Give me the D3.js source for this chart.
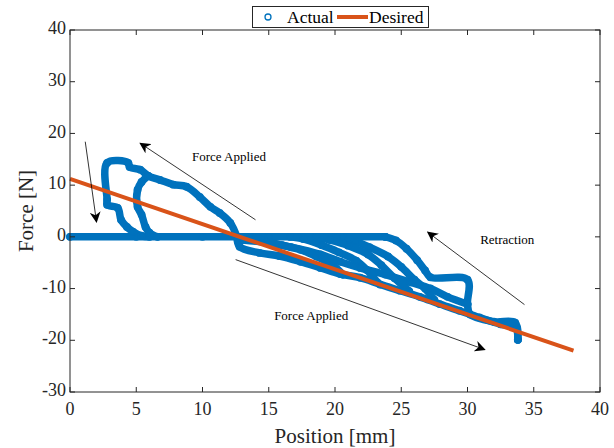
<!DOCTYPE html>
<html><head><meta charset="utf-8">
<script src="https://cdn.jsdelivr.net/npm/d3@7/dist/d3.min.js"></script>
<style>body{margin:0;background:#fff}svg{display:block}</style>
</head><body><svg id="c" width="614" height="448" font-family="'Liberation Serif', 'DejaVu Serif', serif"></svg>
<script>
// ---------- data ----------
const xTicks = [0,5,10,15,20,25,30,35,40];
const yTicks = [-30,-20,-10,0,10,20,30,40];
const desired = [[0,11.2],[38,-22]];

const actualBaseline = [[0,0],[5,0],[10,0],[15,0],[20,0],[23.8,0]];
const actualLoopOuter = [[12.6,0],[12.1,2.7],[11.3,4.6],[10.6,5.8],[9.8,7.7],[8.8,9.7],[7.8,10.1],[6.8,11.0],[5.9,11.8],[5.3,13.0],[4.5,13.5],[4.4,14.3],[2.8,14.3],[2.8,7.2],[2.8,6.2],[3.6,5.6],[3.85,3.3],[4.3,1.9],[4.75,1.0],[5.4,0.2],[6.0,0]];
const actualLoopInner = [[5.9,11.8],[5.4,10.6],[5.1,9.1],[5.1,5.8],[5.4,4.3],[5.7,1.9],[6.0,0.8],[6.6,0]];
const actualPushLower = [[12.6,0],[12.8,-1.9],[14.3,-3.1],[15.8,-3.7],[17.4,-4.8],[18.9,-6.0],[20.4,-7.2],[21.9,-7.9],[23.4,-9.2],[24.9,-10.4],[26.4,-11.6],[27.9,-13.0],[29.4,-14.3],[30.9,-15.6],[32.5,-16.9],[33.6,-17.3],[33.8,-19.9]];
const actualPushUpper = [[13.0,-0.6],[14.8,-1.1],[16.7,-2.0],[18.9,-3.4],[20.4,-4.8],[21.9,-6.0],[23.8,-7.3],[25.7,-8.8],[27.2,-10.0],[28.5,-11.6],[30.0,-13.0]];
const actualRetract1 = [[33.8,-19.9],[33.6,-16.6],[32.0,-16.4],[30.2,-15.0],[30.0,-13.0],[30.0,-8.3],[27.2,-7.8],[26.8,-6.5],[26.2,-4.5],[25.4,-2.3],[24.6,-0.7],[23.8,0]];
const actualRetract2 = [[27.5,-12.2],[26.8,-10.0],[26.0,-8.3],[25.0,-5.8],[24.0,-3.8],[22.6,-2.0],[21.5,-0.8],[20.6,0]];
const actualRetract3 = [[25.6,-10.5],[24.5,-8.0],[23.5,-5.5],[22.5,-3.4],[21.0,-1.7],[19.6,-0.6],[18.6,0]];
const actualRetract4 = [[23.2,-8.8],[22.4,-6.4],[21.6,-4.6],[20.3,-3.0],[19.0,-1.6],[17.6,-0.4],[16.6,0]];
const actualRetract5 = [[20.6,-7.3],[19.8,-5.4],[18.6,-3.8],[17.4,-2.5],[16.0,-1.6],[14.6,-0.7],[13.6,0]];
const actualSeries = [actualBaseline, actualLoopOuter, actualLoopInner, actualPushLower, actualPushUpper,
  actualRetract1, actualRetract2, actualRetract3, actualRetract4, actualRetract5];

const notes = [
  {text:"Force Applied", x:12.0, y:15.3},
  {text:"Retraction", x:33.0, y:-0.8},
  {text:"Force Applied", x:18.2, y:-15.5}
];
const arrows = [
  {from:[1.15,18.4], to:[2.0,2.9]},
  {from:[14.0,3.3], to:[5.3,18.1]},
  {from:[34.3,-13.1], to:[27.0,0.9]},
  {from:[12.5,-4.4], to:[31.3,-21.8]}
];

// ---------- drawing ----------
const svg = d3.select("#c");
const L=70, R=600, T=30, B=392;
const x = d3.scaleLinear().domain([0,40]).range([L,R]);
const y = d3.scaleLinear().domain([-30,40]).range([B,T]);
const axisColor = "#262626";
const blue = "#0072BD", red = "#D95319";

svg.append("defs").append("marker").attr("id","ah").attr("viewBox","0 0 10 10")
  .attr("refX",9).attr("refY",5).attr("markerWidth",11).attr("markerHeight",11)
  .attr("markerUnits","userSpaceOnUse").attr("orient","auto")
  .append("path").attr("d","M0,0 L10,5 L0,10 L3,5 Z").attr("fill","#000");

const g = svg.append("g");
const line = d3.line().x(d=>x(d[0])).y(d=>y(d[1])).curve(d3.curveCatmullRom.alpha(0.5));

actualSeries.forEach(s=>{
  g.append("path").attr("d",line(s)).attr("fill","none").attr("stroke",blue)
   .attr("stroke-width",7.5).attr("stroke-linejoin","round").attr("stroke-linecap","round");
});
actualSeries.forEach(s=>{
  g.selectAll(null).data(s).enter().append("circle")
   .attr("cx",d=>x(d[0])).attr("cy",d=>y(d[1])).attr("r",3.3)
   .attr("fill","none").attr("stroke",blue).attr("stroke-width",1.3);
});

g.append("path").attr("d",d3.line().x(d=>x(d[0])).y(d=>y(d[1]))(desired))
  .attr("fill","none").attr("stroke",red).attr("stroke-width",4);

// annotations
arrows.forEach(a=>{
  svg.append("line").attr("x1",x(a.from[0])).attr("y1",y(a.from[1]))
    .attr("x2",x(a.to[0])).attr("y2",y(a.to[1]))
    .attr("stroke","#000").attr("stroke-width",0.8).attr("marker-end","url(#ah)");
});
notes.forEach(n=>{
  svg.append("text").attr("x",x(n.x)).attr("y",y(n.y)).attr("text-anchor","middle")
    .attr("dominant-baseline","middle").attr("font-size",13).attr("fill","#000").text(n.text);
});

// axes box
const ax = svg.append("g");
ax.append("rect").attr("x",L).attr("y",T).attr("width",R-L).attr("height",B-T)
  .attr("fill","none").attr("stroke",axisColor).attr("stroke-width",1);
xTicks.forEach(t=>{
  ax.append("line").attr("x1",x(t)).attr("x2",x(t)).attr("y1",B).attr("y2",B-5).attr("stroke",axisColor);
  ax.append("line").attr("x1",x(t)).attr("x2",x(t)).attr("y1",T).attr("y2",T+5).attr("stroke",axisColor);
  ax.append("text").attr("x",x(t)).attr("y",B+23).attr("text-anchor","middle")
    .attr("font-size",18).attr("fill",axisColor).text(t);
});
yTicks.forEach(t=>{
  ax.append("line").attr("x1",L).attr("x2",L+5).attr("y1",y(t)).attr("y2",y(t)).attr("stroke",axisColor);
  ax.append("line").attr("x1",R).attr("x2",R-5).attr("y1",y(t)).attr("y2",y(t)).attr("stroke",axisColor);
  ax.append("text").attr("x",L-4).attr("y",y(t)).attr("text-anchor","end").attr("dominant-baseline","middle")
    .attr("font-size",18).attr("fill",axisColor).text(t);
});
ax.append("text").attr("x",(L+R)/2).attr("y",443).attr("text-anchor","middle")
  .attr("font-size",21).attr("fill",axisColor).text("Position [mm]");
ax.append("text").attr("transform",`translate(33,${(T+B)/2}) rotate(-90)`).attr("text-anchor","middle")
  .attr("font-size",21).attr("fill",axisColor).text("Force [N]");

// legend
const lg = svg.append("g");
lg.append("rect").attr("x",252.5).attr("y",6.5).attr("width",176).attr("height",21)
  .attr("fill","#fff").attr("stroke",axisColor).attr("stroke-width",1);
lg.append("circle").attr("cx",268).attr("cy",17).attr("r",3).attr("fill","none").attr("stroke",blue).attr("stroke-width",1.3);
lg.append("text").attr("x",287).attr("y",23).attr("font-size",17.5).attr("fill","#000").text("Actual");
lg.append("line").attr("x1",337).attr("x2",368).attr("y1",17).attr("y2",17).attr("stroke",red).attr("stroke-width",4);
lg.append("text").attr("x",369).attr("y",23).attr("font-size",17.5).attr("fill","#000").text("Desired");
</script></body></html>
